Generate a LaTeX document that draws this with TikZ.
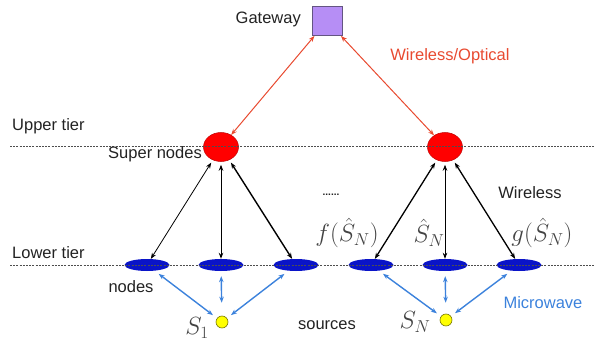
\documentclass[tikz,border=0pt]{standalone}
\usepackage{fontspec}
\setmainfont{Liberation Sans}
\usetikzlibrary{arrows.meta,shapes.geometric}
\definecolor{gwfill}{RGB}{182,142,245}
\definecolor{gwdraw}{RGB}{100,85,130}
\definecolor{redarr}{RGB}{232,74,48}
\definecolor{supred}{RGB}{255,0,0}
\definecolor{supdraw}{RGB}{190,0,0}
\definecolor{lowblue}{RGB}{10,20,200}
\definecolor{bluearr}{RGB}{60,130,220}
\definecolor{srcyel}{RGB}{255,255,0}
\definecolor{srcdraw}{RGB}{120,120,0}
\definecolor{txt}{RGB}{34,34,34}
\tikzset{
  lbl/.style={font=\fontsize{16.5}{18}\selectfont, text=txt, inner sep=0pt},
  mlbl/.style={font=\fontsize{23}{25}\selectfont, text=txt!85, inner sep=0pt},
  gwbox/.style={draw=gwdraw, fill=gwfill, line width=0.8pt, minimum width=30pt, minimum height=29pt, inner sep=0pt},
  supernode/.style={ellipse, draw=supdraw, fill=supred, line width=0.5pt, minimum width=35pt, minimum height=29pt, inner sep=0pt},
  lownode/.style={ellipse, fill=lowblue, minimum width=45pt, minimum height=12pt, inner sep=0pt},
  srcnode/.style={circle, draw=srcdraw, fill=srcyel, line width=0.6pt, minimum size=12pt, inner sep=0pt},
  tierline/.style={draw=txt!80, line width=1pt, dash pattern=on 2pt off 1.2pt},
  tip/.style={{Stealth[length=6pt,width=4.5pt]}-{Stealth[length=6pt,width=4.5pt]}},
  redlink/.style={tip, draw=redarr, line width=1pt},
  blacklink/.style={tip, draw=black, line width=1pt, shorten <=3pt},
  bluelink/.style={tip, draw=bluearr, line width=1.4pt, shorten <=5pt, shorten >=5pt},
}
\begin{document}
\begin{tikzpicture}[x=1pt,y=-1pt]
\useasboundingbox (0,0) rectangle (595,345);
% gateway
\node[gwbox] (gw) at (327,21) {};
\node[lbl, anchor=east] (gwl) at (301,19) {Gateway};
\node[lbl, text=redarr] (wo) at (450,56) {Wireless/Optical};
% super nodes
\node[supernode] (sn1) at (221,147) {};
\node[supernode] (sn2) at (445,147) {};
% lower nodes
\node[lownode] (l1) at (147,265) {};
\node[lownode] (l2) at (221,265) {};
\node[lownode] (l3) at (296,265) {};
\node[lownode] (l4) at (371,265) {};
\node[lownode] (l5) at (445,265) {};
\node[lownode] (l6) at (519,265) {};
% sources
\node[srcnode] (s1) at (222,322) {};
\node[srcnode] (sn) at (446,320) {};
% tier lines
\coordinate (ua) at (10,146);
\coordinate (ub) at (595,146);
\coordinate (la) at (10,265);
\coordinate (lb) at (595,265);
\draw[tierline] (ua) -- (ub);
\draw[tierline] (la) -- (lb);
% labels
\node[lbl, anchor=west] (ut) at (12,126) {Upper tier};
\node[lbl, anchor=east] (snl) at (202,154) {Super nodes};
\node[lbl, anchor=west] (lt) at (12,253) {Lower tier};
\node[lbl] (nl) at (131,287) {nodes};
\node[lbl] (src) at (327,325) {sources};
\node[lbl, text=bluearr] (mw) at (543,303) {Microwave};
\node[lbl] (wl) at (530,193) {Wireless};
\node[font=\bfseries\fontsize{10}{10}\selectfont, text=txt, inner sep=0pt] (dots) at (331,195) {......};
\node[mlbl] (fl) at (347,233) {$f(\hat{S}_N)$};
\node[mlbl] (hl) at (429,233) {$\hat{S}_N$};
\node[mlbl] (gl) at (542,233) {$g(\hat{S}_N)$};
\node[mlbl] (s1l) at (197,328) {$S_1$};
\node[mlbl] (snlab) at (415,322) {$S_N$};
% red links
\draw[redlink] (gw) -- (sn1);
\draw[redlink] (gw) -- (sn2);
% black links
\draw[blacklink, line width=0.8pt] (sn1) -- (l1);
\draw[blacklink, line width=1pt] (sn1) -- (l2);
\draw[blacklink, line width=1.4pt] (sn1) -- (l3);
\draw[blacklink, line width=1.3pt] (sn2) -- (l4);
\draw[blacklink, line width=0.7pt] (sn2) -- (l5);
\draw[blacklink, line width=1.3pt] (sn2) -- (l6);
% blue links
\draw[bluelink] (l1) -- (s1);
\draw[bluelink, shorten >=13pt] (l2) -- (s1);
\draw[bluelink] (l3) -- (s1);
\draw[bluelink] (l4) -- (sn);
\draw[bluelink, shorten >=11pt] (l5) -- (sn);
\draw[bluelink] (l6) -- (sn);
\end{tikzpicture}
\end{document}
